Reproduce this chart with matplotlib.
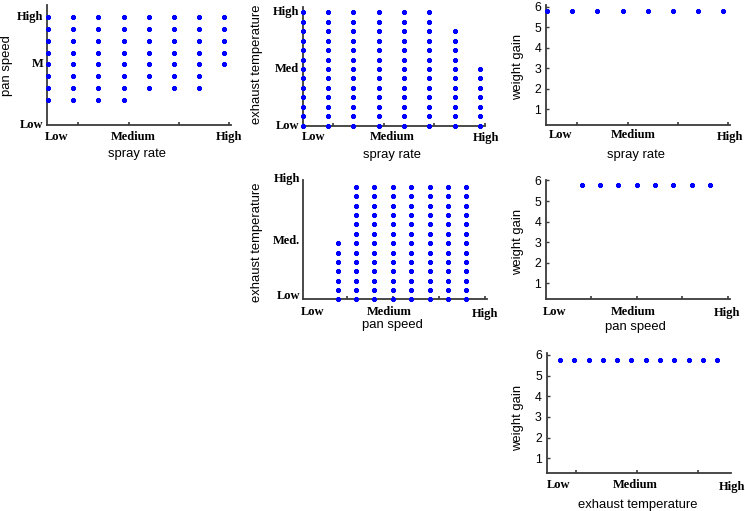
import matplotlib
matplotlib.use("Agg")
import matplotlib.pyplot as plt
from matplotlib.transforms import ScaledTranslation

# ---------------- data ----------------
spray_rate_cols = [1, 2, 3, 4, 5, 6, 7, 8]
pan_speed_cols = [1, 2, 3, 4, 5, 6, 7, 8]
exhaust_temp_cols = [1, 2, 3, 4, 5, 6, 7, 8, 9, 10, 11, 12]

# panel 1: pan speed levels (1..8) feasible for each spray rate
pan_min_by_spray = [1, 1, 1, 1, 2, 2, 2, 4]
pan_max_by_spray = [8, 8, 8, 8, 8, 8, 8, 8]
# panel 2: exhaust temperature levels (0..12) feasible for each spray rate
exh_min_by_spray = [0, 0, 0, 0, 0, 0, 0, 0]
exh_max_by_spray = [12, 12, 12, 12, 12, 12, 10, 6]
# panel 4: exhaust temperature levels (0..12) feasible for each pan speed
exh_min_by_pan = [0, 0, 0, 0, 0, 0, 0, 0]
exh_max_by_pan = [6, 12, 12, 12, 12, 12, 12, 12]
# weight gain panels
wg_vs_spray = [5.78, 5.78, 5.78, 5.78, 5.78, 5.78, 5.78, 5.78]
wg_vs_pan = [5.77, 5.77, 5.77, 5.77, 5.77, 5.77, 5.77, 5.77]
wg_vs_exh = [5.77] * 12

cat_labels = ["Low", "Medium", "High"]
pan_ylabels = ["Low", "M", "High"]
exh_ylabels_a = ["Low", "Med", "High"]
exh_ylabels_b = ["Low", "Med.", "High"]
wg_ticks = [1, 2, 3, 4, 5, 6]

# ---------------- layout ----------------
W, H = 745, 511
fig = plt.figure(figsize=(W / 100, H / 100), dpi=100)
fig.patch.set_facecolor("white")

SERIF = "Liberation Serif"
SANS = "Liberation Sans"
BLUE = "#0000ff"
AXC = "#3a3a3a"
TICKFS = 9.0
LABFS = 9.4
NUMFS = 8.8
MS = 3.4
MEW = 1.1


def make_ax(l, r, b, t, xlim, ylim):
    ax = fig.add_axes([l / W, 1 - b / H, (r - l) / W, (b - t) / H])
    ax.set_xlim(*xlim)
    ax.set_ylim(*ylim)
    for s in ("top", "right"):
        ax.spines[s].set_visible(False)
    for s in ("left", "bottom"):
        ax.spines[s].set_color(AXC)
        ax.spines[s].set_linewidth(1.3)
    ax.set_facecolor("none")
    ax.set_xticks([])
    ax.set_yticks([])
    return ax


def xmarks(ax, pos):
    ax.set_xticks(pos)
    ax.set_xticklabels([])
    ax.tick_params(axis="x", direction="in", length=2.5, width=1.2, color=AXC)


def xlabels_cat(ax, pos, labels, dys):
    for p, s, dy in zip(pos, labels, dys):
        tr = ax.get_xaxis_transform() + ScaledTranslation(0, -dy / 100, fig.dpi_scale_trans)
        ax.text(p, 0, s, transform=tr, ha="center", va="center", family=SERIF,
                weight="bold", fontsize=TICKFS, color="black", clip_on=False)


def ylabels_cat(ax, pos, labels, pad=4):
    for p, s in zip(pos, labels):
        tr = ax.get_yaxis_transform() + ScaledTranslation(-pad / 100, 0, fig.dpi_scale_trans)
        ax.text(0, p, s, transform=tr, ha="right", va="center", family=SERIF,
                weight="bold", fontsize=TICKFS, color="black", clip_on=False)


def ynum(ax, ticks):
    ax.set_yticks(ticks)
    ax.set_yticklabels([str(t) for t in ticks], family=SANS, fontsize=NUMFS)
    ax.tick_params(axis="y", direction="in", length=2.5, width=1.0, color=AXC, pad=3.5)


def pixtext(x, y, s, rot=0):
    fig.text(x / W, 1 - y / H, s, ha="center", va="center", rotation=rot,
             family=SANS, fontsize=LABFS, color="black")


def scatter_grid(ax, cols, mins, maxs):
    xs, ys = [], []
    for c, lo, hi in zip(cols, mins, maxs):
        for lev in range(lo, hi + 1):
            xs.append(c)
            ys.append(lev)
    ax.plot(xs, ys, linestyle="none", marker=(8, 2, 0), markersize=MS,
            markeredgewidth=MEW, color=BLUE, clip_on=False, zorder=3)


def scatter_line(ax, cols, vals):
    ax.plot(cols, vals, linestyle="none", marker=(8, 2, 0), markersize=MS,
            markeredgewidth=MEW, color=BLUE, clip_on=False, zorder=3)


# Panel 1: pan speed vs spray rate
ax1 = make_ax(47, 231, 125, 5, (0.96, 8.26), (-1.1, 9.0))
scatter_grid(ax1, spray_rate_cols, pan_min_by_spray, pan_max_by_spray)
xmarks(ax1, [2.2, 4.2, 6.2, 8.2])
xlabels_cat(ax1, [1.34, 4.37, 8.18], cat_labels, [12.3, 12.3, 12.3])
ylabels_cat(ax1, [-1.1, 4.0, 8.0], pan_ylabels, pad=3.5)
pixtext(137.5, 153.5, "spray rate")
pixtext(7.5, 66, "pan speed", rot=90)

# Panel 2: exhaust temperature vs spray rate
ax2 = make_ax(302.7, 485, 125.7, 6.7, (1.0, 8.2), (0, 12.6))
scatter_grid(ax2, spray_rate_cols, exh_min_by_spray, exh_max_by_spray)
xmarks(ax2, [2.2, 4.2, 6.2, 8.2])
xlabels_cat(ax2, [1.41, 4.52, 8.24], cat_labels, [11.0, 11.0, 12.5])
ylabels_cat(ax2, [0, 6, 12], exh_ylabels_a, pad=3.4)
pixtext(392.5, 155, "spray rate")
pixtext(256.7, 64, "exhaust temperature", rot=90)

# Panel 3: weight gain vs spray rate
ax3 = make_ax(546, 730, 125, 5, (0.95, 8.28), (0.22, 6.08))
scatter_line(ax3, spray_rate_cols, wg_vs_spray)
xmarks(ax3, [2.2, 4.2, 6.2, 8.2])
xlabels_cat(ax3, [1.53, 4.44, 8.26], cat_labels, [10.0, 10.0, 11.7])
ynum(ax3, wg_ticks)
pixtext(635.8, 154.5, "spray rate")
pixtext(518, 67, "weight gain", rot=90)

# Panel 4: exhaust temperature vs pan speed
ax4 = make_ax(303.3, 486.7, 299.3, 180, (-0.87, 9.1), (0, 12.75))
scatter_grid(ax4, pan_speed_cols, exh_min_by_pan, exh_max_by_pan)
xmarks(ax4, [1.5, 4.0, 6.5, 9.0])
xlabels_cat(ax4, [-0.36, 3.8, 9.0], cat_labels, [12.4, 12.4, 14.7])
ylabels_cat(ax4, [0.3, 6.2, 12.9], exh_ylabels_b, pad=3.5)
pixtext(392.5, 325, "pan speed")
pixtext(256.7, 242, "exhaust temperature", rot=90)

# Panel 5: weight gain vs pan speed
ax5 = make_ax(546, 730, 299.3, 180, (-0.95, 9.1), (0.23, 6.02))
scatter_line(ax5, pan_speed_cols, wg_vs_pan)
xmarks(ax5, [1.5, 4.0, 6.5, 9.0])
xlabels_cat(ax5, [-0.46, 3.79, 8.96], cat_labels, [12.4, 12.4, 13.4])
ynum(ax5, wg_ticks)
pixtext(635.8, 327, "pan speed")
pixtext(518, 241.7, "weight gain", rot=90)

# Panel 6: weight gain vs exhaust temperature
ax6 = make_ax(546.7, 731, 473.3, 353.3, (0.07, 12.96), (0.27, 6.08))
scatter_line(ax6, exhaust_temp_cols, wg_vs_exh)
xmarks(ax6, [2.12, 6.38, 10.65])
xlabels_cat(ax6, [0.88, 6.24, 13.0], cat_labels, [11.7, 11.7, 13.4])
ynum(ax6, wg_ticks)
pixtext(638, 504.5, "exhaust temperature")
pixtext(518, 417.5, "weight gain", rot=90)

fig.savefig("out.png", dpi=100, facecolor="white")
